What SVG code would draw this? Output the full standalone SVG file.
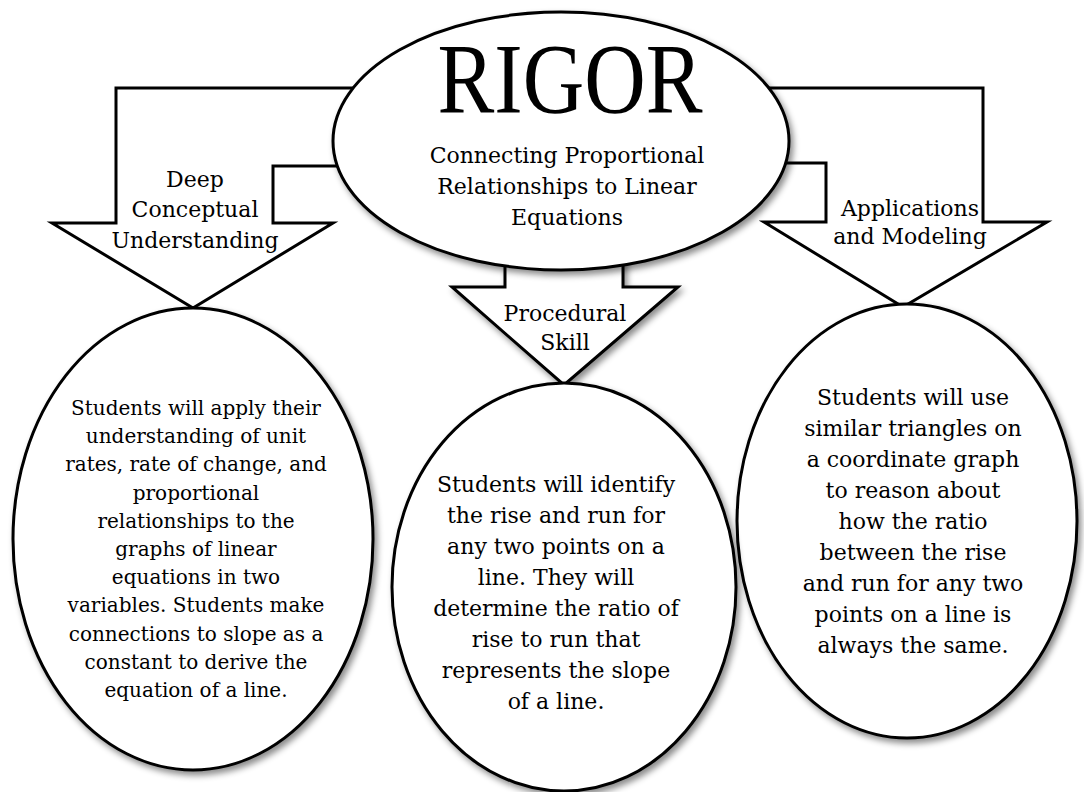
<svg xmlns="http://www.w3.org/2000/svg" width="1084" height="792" viewBox="0 0 1084 792">
<style>
.shape{fill:#fff;stroke:#000;stroke-width:3;stroke-linejoin:miter}
.t{font-family:"DejaVu Serif","Liberation Serif",serif;font-size:22px;fill:#000;text-anchor:middle}
.s{font-size:20px}
.big{font-family:"Liberation Serif","DejaVu Serif",serif;font-size:100px;fill:#000;text-anchor:middle}
</style>
<defs>
<filter id="sh" x="-10%" y="-10%" width="125%" height="125%">
<feDropShadow dx="3" dy="4" stdDeviation="3" flood-color="#000" flood-opacity="0.45"/>
</filter>
</defs>
<rect width="1084" height="792" fill="#fff"/>
<g id="connectors">
<g id="arrow-deep">
<path class="shape" d="M420,88 L116,88 L116,223 L52,223 L193,308 L333,223 L273,223 L273,166 L420,166 Z"/>
<text class="t" x="195" y="187">Deep</text>
<text class="t" x="195" y="217">Conceptual</text>
<text class="t" x="195" y="248">Understanding</text>
</g>
<g id="arrow-applications">
<path class="shape" d="M700,88 L983,88 L983,222 L1047,222 L903,307 L764,222 L826,222 L826,163 L700,163 Z"/>
<text class="t" x="910" y="216">Applications</text>
<text class="t" x="910" y="244">and Modeling</text>
</g>
<g id="arrow-procedural">
<path class="shape" filter="url(#sh)" d="M505,240 L505,287 L452,287 L564,385 L678,287 L623,287 L623,240 Z"/>
<text class="t" x="565" y="321">Procedural</text>
<text class="t" x="565" y="350">Skill</text>
</g>
</g>
<g id="rigor">
<ellipse class="shape" filter="url(#sh)" cx="561" cy="141" rx="228" ry="129"/>
<text class="big" x="570" y="112" textLength="265" lengthAdjust="spacingAndGlyphs">RIGOR</text>
<text class="t" x="567" y="163">Connecting Proportional</text>
<text class="t" x="567" y="194">Relationships to Linear</text>
<text class="t" x="567" y="225">Equations</text>
</g>
<g id="node-deep">
<ellipse class="shape" filter="url(#sh)" cx="193" cy="539" rx="180" ry="231"/>
<text class="t s" x="196" y="415">Students will apply their</text>
<text class="t s" x="196" y="443">understanding of unit</text>
<text class="t s" x="196" y="471">rates, rate of change, and</text>
<text class="t s" x="196" y="500">proportional</text>
<text class="t s" x="196" y="528">relationships to the</text>
<text class="t s" x="196" y="556">graphs of linear</text>
<text class="t s" x="196" y="584">equations in two</text>
<text class="t s" x="196" y="612">variables. Students make</text>
<text class="t s" x="196" y="641">connections to slope as a</text>
<text class="t s" x="196" y="669">constant to derive the</text>
<text class="t s" x="196" y="697">equation of a line.</text>
</g>
<g id="node-applications">
<ellipse class="shape" filter="url(#sh)" cx="907" cy="521" rx="170" ry="217"/>
<text class="t" x="913" y="405">Students will use</text>
<text class="t" x="913" y="436">similar triangles on</text>
<text class="t" x="913" y="467">a coordinate graph</text>
<text class="t" x="913" y="498">to reason about</text>
<text class="t" x="913" y="529">how the ratio</text>
<text class="t" x="913" y="560">between the rise</text>
<text class="t" x="913" y="591">and run for any two</text>
<text class="t" x="913" y="622">points on a line is</text>
<text class="t" x="913" y="653">always the same.</text>
</g>
<g id="node-procedural">
<ellipse class="shape" filter="url(#sh)" cx="564" cy="587" rx="172" ry="204"/>
<text class="t" x="556" y="492">Students will identify</text>
<text class="t" x="556" y="523">the rise and run for</text>
<text class="t" x="556" y="554">any two points on a</text>
<text class="t" x="556" y="585">line. They will</text>
<text class="t" x="556" y="616">determine the ratio of</text>
<text class="t" x="556" y="647">rise to run that</text>
<text class="t" x="556" y="678">represents the slope</text>
<text class="t" x="556" y="709">of a line.</text>
</g>
</svg>
